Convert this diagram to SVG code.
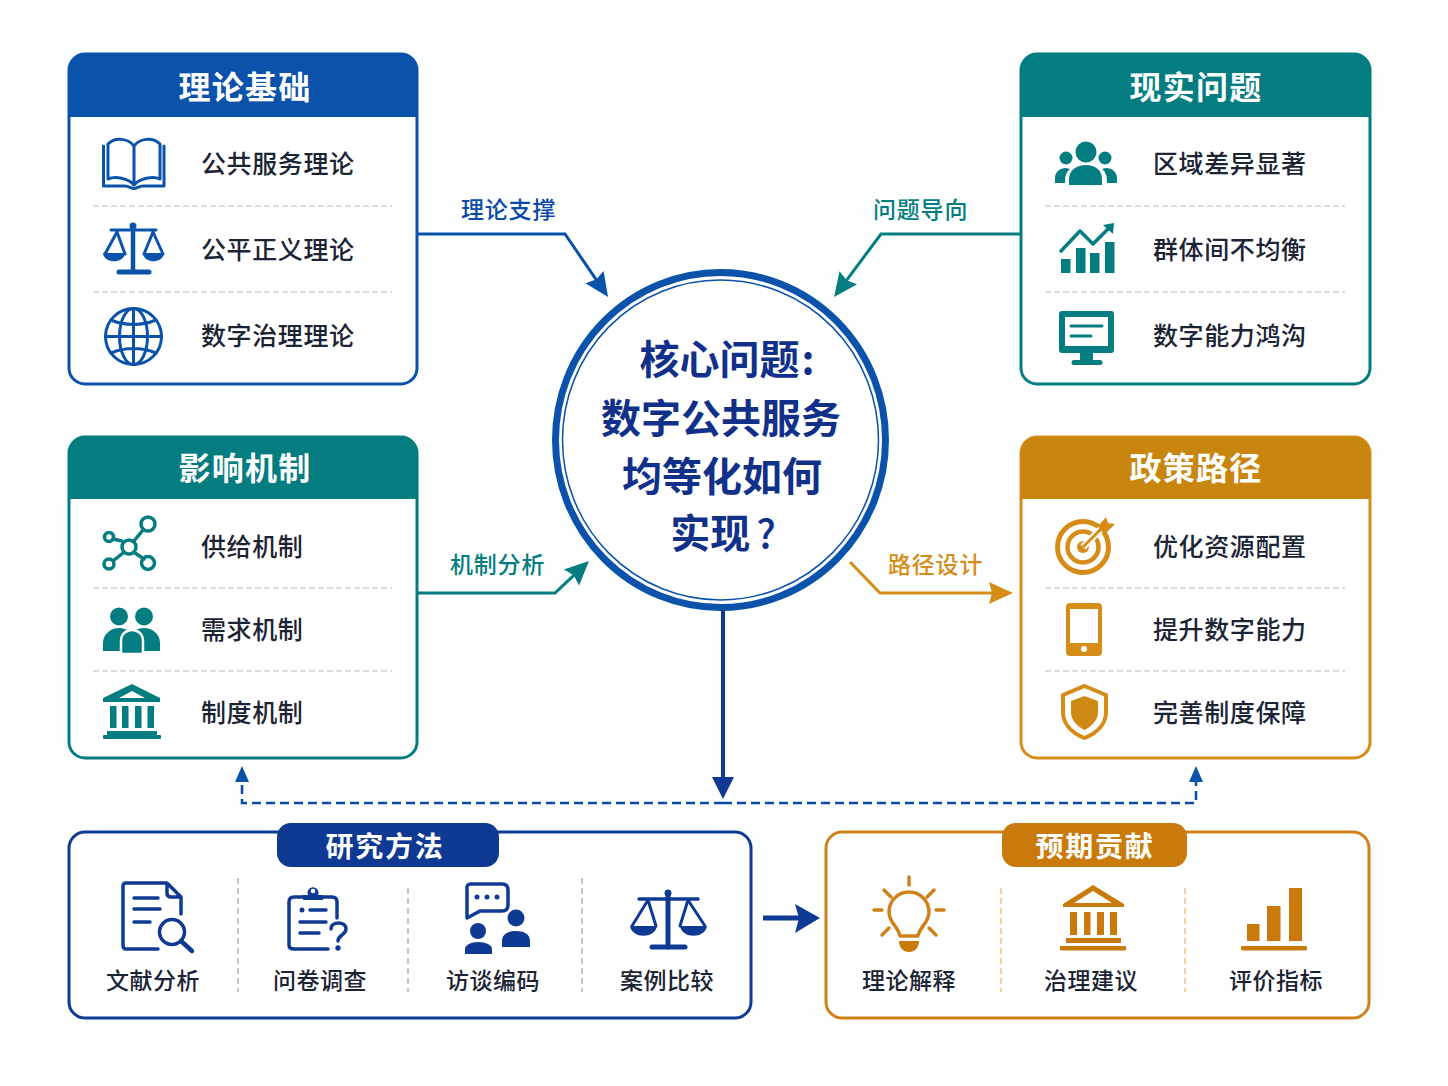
<svg xmlns="http://www.w3.org/2000/svg" width="1448" height="1086" viewBox="0 0 1448 1086">
<style>
text{font-family:"Noto Sans CJK SC","Noto Sans",sans-serif}
.title{font-size:32px;font-weight:700;fill:#fff;text-anchor:middle;letter-spacing:1.2px}
.item{font-size:25px;font-weight:500;fill:#1b2435;letter-spacing:.6px}
.tab{font-size:28px;font-weight:700;fill:#fff;text-anchor:middle;letter-spacing:1.7px}
.cap{font-size:23px;font-weight:500;fill:#1b2435;text-anchor:middle;letter-spacing:.5px}
.lab{font-size:23px;font-weight:500;letter-spacing:.8px}
.core{font-size:40px;font-weight:700;fill:#10308a;text-anchor:middle}
.div{stroke:#cfd2d6;stroke-width:1.6;stroke-dasharray:6 3;fill:none}
.vdiv{stroke:#c3c6ca;stroke-width:2;stroke-dasharray:6 4;fill:none}
.vdivo{stroke:#f6cfa4;stroke-width:2;stroke-dasharray:6 4;fill:none}
.blue{fill:#0b52ab}.teal{fill:#047d80}.gold{fill:#c9860f}.navy{fill:#0e3a94}.orange{fill:#c97a0a}
.sb{stroke:#0b52ab}.st{stroke:#047d80}.sg{stroke:#d68d18}.sn{stroke:#0e3a94}.so{stroke:#d0821a}
.ln{fill:none;stroke-linecap:round;stroke-linejoin:round}
</style>
<defs>
<marker id="ab" markerUnits="userSpaceOnUse" viewBox="0 0 24 24" markerWidth="24" markerHeight="24" refX="6" refY="12" orient="auto"><path d="M0,1 L24,12 L0,23 L3,12z" fill="#0b52ab"/></marker>
<marker id="at" markerUnits="userSpaceOnUse" viewBox="0 0 24 24" markerWidth="24" markerHeight="24" refX="6" refY="12" orient="auto"><path d="M0,1 L24,12 L0,23 L3,12z" fill="#047d80"/></marker>
<marker id="ag" markerUnits="userSpaceOnUse" viewBox="0 0 24 24" markerWidth="24" markerHeight="24" refX="6" refY="12" orient="auto"><path d="M0,1 L24,12 L0,23 L3,12z" fill="#d68d18"/></marker>
<marker id="as" markerUnits="userSpaceOnUse" viewBox="0 0 16 16" markerWidth="16" markerHeight="16" refX="2" refY="8" orient="auto"><path d="M0,1 L16,8 L0,15z" fill="#0b52ab"/></marker>
</defs>
<rect width="1448" height="1086" fill="#fdfefe"/>

<g id="connectors">
<path d="M417,234 H565 L597.9,282.1" fill="none" stroke="#0b52ab" stroke-width="3" marker-end="url(#ab)"/>
<path d="M1021,234 H881 L844.8,282.6" fill="none" stroke="#047d80" stroke-width="3" marker-end="url(#at)"/>
<path d="M417,593 H555 L575.9,573.3" fill="none" stroke="#047d80" stroke-width="3" marker-end="url(#at)"/>
<path d="M850,562 L880,593 H995" fill="none" stroke="#d68d18" stroke-width="3" marker-end="url(#ag)"/>
<path d="M723,803 H242 V780" fill="none" stroke="#0b4aa8" stroke-width="2.500" stroke-dasharray="9 5" marker-end="url(#as)"/>
<path d="M723,803 H1196 V780" fill="none" stroke="#0b4aa8" stroke-width="2.500" stroke-dasharray="9 5" marker-end="url(#as)"/>
<path d="M723,610 V780" fill="none" stroke="#0e3a94" stroke-width="4"/>
<path d="M712,777 H734 L723,799z" fill="#0e3a94"/>
<path d="M763,918 H800" fill="none" stroke="#0e3a94" stroke-width="5"/>
<path d="M795,904 L820,918 L795,933 L799,918z" fill="#0e3a94"/>
<text class="lab" x="461" y="218" fill="#0b4aa8">理论支撑</text>
<text class="lab" x="873" y="218" fill="#047d80">问题导向</text>
<text class="lab" x="450" y="573" fill="#047d80">机制分析</text>
<text class="lab" x="888" y="573" fill="#d68d18">路径设计</text>
</g>

<g id="core">
<ellipse cx="720.500" cy="440" rx="165" ry="167.500" fill="#fff" stroke="#0b52ab" stroke-width="7"/>
<ellipse cx="720.500" cy="440" rx="158" ry="160" fill="none" stroke="#0b52ab" stroke-width="1.500"/>
<text class="core" x="727" y="374">核心问题<tspan dx="2">:</tspan></text>
<text class="core" x="721" y="433">数字公共服务</text>
<text class="core" x="722" y="491">均等化如何</text>
<text class="core" x="723" y="548">实现<tspan dx="6" font-weight="500">?</tspan></text>
</g>

<g id="theory">
<rect x="69" y="54" width="348" height="330" rx="16" fill="#fff" stroke="#0b52ab" stroke-width="3"/>
<path d="M69,117 V70 a16,16 0 0 1 16,-16 H401 a16,16 0 0 1 16,16 V117z" class="blue"/>
<text class="title" x="245" y="99">理论基础</text>
<path class="div" d="M93,206 H392 M93,292 H392"/>
<text class="item" x="201" y="173">公共服务理论</text>
<text class="item" x="201" y="259">公平正义理论</text>
<text class="item" x="201" y="345">数字治理理论</text>
<g class="ln sb" stroke-width="3">
<path d="M108,179 V144 C115,137 128,138 134,146 V185 C128,178 115,176 108,179z M160,179 V144 C153,137 140,138 134,146 V185 C140,178 153,176 160,179z"/>
<path d="M103.500,146 V186 H125 C129,186 131,188.500 134,188.500 C137,188.500 139,186 143,186 H164 V146"/>
</g>
<g class="ln sb" stroke-width="3">
<path d="M111,230 H156 M117,232 L105,254 M117,232 L125,254 M153,232 L144,254 M153,232 L163,254"/>
<path d="M133,226 V272" stroke-width="4.500"/><path d="M119,272 H149" stroke-width="5"/>
</g>
<circle cx="133" cy="226" r="3.500" class="blue"/>
<path d="M103,253 H125 C124,264 104,264 103,253z M143,253 H164 C163,264 144,264 143,253z" class="blue"/>
<g class="ln sb" stroke-width="3">
<circle cx="133.500" cy="336.500" r="28"/><ellipse cx="133.500" cy="336.500" rx="14" ry="28"/>
<path d="M133.500,308.500 V364.500 M105.500,336.500 H161.500 M111,320 C125,326 142,326 156,320 M111,353 C125,347 142,347 156,353"/>
</g>
</g>

<g id="reality">
<rect x="1021" y="54" width="349" height="330" rx="16" fill="#fff" stroke="#047d80" stroke-width="3"/>
<path d="M1021,117 V70 a16,16 0 0 1 16,-16 H1354 a16,16 0 0 1 16,16 V117z" class="teal"/>
<text class="title" x="1196" y="99">现实问题</text>
<path class="div" d="M1045,206 H1345 M1045,292 H1345"/>
<text class="item" x="1153" y="173">区域差异显著</text>
<text class="item" x="1153" y="259">群体间不均衡</text>
<text class="item" x="1153" y="345">数字能力鸿沟</text>
<g class="teal">
<circle cx="1086" cy="152" r="10.500"/><circle cx="1066" cy="158" r="6.500"/><circle cx="1105" cy="158" r="6.500"/>
<path d="M1069,185 V179 C1069,170 1077,165 1086,165 C1095,165 1102,170 1102,179 V185z"/>
<path d="M1055,183 V178 C1055,172 1060,168 1066,168 L1070,169 C1066,172 1065,176 1065,183z M1117,183 V178 C1117,172 1112,168 1106,168 L1102,169 C1106,172 1107,176 1107,183z"/>
<rect x="1061" y="259" width="9.500" height="14"/><rect x="1076" y="248" width="9.500" height="25"/><rect x="1090" y="253" width="9.500" height="20"/><rect x="1105" y="242" width="9.500" height="31"/>
<path d="M1103,225 L1114,223 L1113,234z"/>
<path fill-rule="evenodd" d="M1062,311 H1111 a3,3 0 0 1 3,3 V350 a3,3 0 0 1 -3,3 H1093 V360 H1100 a2.500,2.500 0 0 1 0,5 H1074 a2.500,2.500 0 0 1 0,-5 H1080 V353 H1062 a3,3 0 0 1 -3,-3 V314 a3,3 0 0 1 3,-3z M1065,317 V346 H1108 V317z"/>
</g>
<path class="ln st" stroke-width="3.500" d="M1061,251 L1080,231 L1093,244 L1110,227"/>
<path class="ln st" stroke-width="3" d="M1071,326 H1102 M1071,336 H1091"/>
</g>

<g id="mechanism">
<rect x="69" y="437" width="348" height="321" rx="16" fill="#fff" stroke="#047d80" stroke-width="3"/>
<path d="M69,499 V453 a16,16 0 0 1 16,-16 H401 a16,16 0 0 1 16,16 V499z" class="teal"/>
<text class="title" x="245" y="480">影响机制</text>
<path class="div" d="M93,588 H392 M93,671 H392"/>
<text class="item" x="201" y="556">供给机制</text>
<text class="item" x="201" y="639">需求机制</text>
<text class="item" x="201" y="722">制度机制</text>
<g class="ln st" stroke-width="3.500">
<path d="M134,541 L143,530 M122,541 L113,539 M123,553 L113,561 M135,553 L144,559"/>
<circle cx="129" cy="547" r="7"/><circle cx="148" cy="524" r="7"/><circle cx="109" cy="537" r="4.500"/><circle cx="109" cy="564" r="5"/><circle cx="148" cy="563" r="6.500"/>
</g>
<g class="teal">
<circle cx="119" cy="616.500" r="9"/><circle cx="144" cy="616.500" r="9"/>
<path d="M103,651 V643 C103,634 111,628 119,628 C127,628 135,634 135,643 V651z M160,651 V643 C160,634 152,628 144,628 C136,628 128,634 128,643 V651z"/>
<path d="M121,654 V641 C121,634 126,630 132,630 C138,630 143,634 143,641 V654z" stroke="#fff" stroke-width="2.500"/>
<path fill-rule="evenodd" d="M132,684 L160,698 V702 H103 V698z M132,691 L119,698 H145z"/>
<rect x="110" y="706" width="6.500" height="22"/><rect x="122" y="706" width="6.500" height="22"/><rect x="135" y="706" width="6.500" height="22"/><rect x="147.500" y="706" width="6.500" height="22"/>
<rect x="107" y="731" width="50" height="4"/><rect x="103" y="735" width="58" height="4" rx="1"/>
</g>
</g>

<g id="policy">
<rect x="1021" y="437" width="349" height="321" rx="16" fill="#fff" stroke="#d68d18" stroke-width="3"/>
<path d="M1021,499 V453 a16,16 0 0 1 16,-16 H1354 a16,16 0 0 1 16,16 V499z" class="gold"/>
<text class="title" x="1196" y="480">政策路径</text>
<path class="div" d="M1045,588 H1345 M1045,671 H1345"/>
<text class="item" x="1153" y="556">优化资源配置</text>
<text class="item" x="1153" y="639">提升数字能力</text>
<text class="item" x="1153" y="722">完善制度保障</text>
<circle cx="1083" cy="547" r="25.500" fill="none" stroke="#d68d18" stroke-width="5"/>
<circle cx="1083" cy="547" r="15.500" fill="none" stroke="#d68d18" stroke-width="4.500"/>
<circle cx="1083" cy="547" r="6" fill="#d68d18"/>
<path d="M1083,547 L1103,527" stroke="#fff" stroke-width="7" fill="none"/>
<path d="M1083,547 L1103,527" stroke="#d68d18" stroke-width="3" fill="none"/>
<path d="M1098,526 L1106,517 L1108,523 L1115,524 L1106,533 L1100,531z" fill="#d68d18"/>
<path fill="#d68d18" fill-rule="evenodd" d="M1070,603 H1098 a4,4 0 0 1 4,4 V652 a4,4 0 0 1 -4,4 H1070 a4,4 0 0 1 -4,-4 V607 a4,4 0 0 1 4,-4z M1070,609 V643 H1098 V609z"/>
<circle cx="1084" cy="649" r="3" fill="#fff"/>
<path d="M1084.500,686 L1106,695 V712 C1106,724 1097,733 1084.500,738 C1072,733 1063,724 1063,712 V695z" fill="none" stroke="#d68d18" stroke-width="4"/>
<path d="M1084.500,696 L1098,701 V712 C1098,720 1092,726 1084.500,730 C1077,726 1071,720 1071,712 V701z" fill="#cf8a14"/>
</g>

<g id="methods">
<rect x="69" y="832" width="682" height="186" rx="16" fill="#fff" stroke="#0e3a94" stroke-width="3"/>
<rect x="277" y="823" width="222" height="44" rx="14" class="navy"/>
<text class="tab" x="385" y="857">研究方法</text>
<path class="vdiv" d="M238,878 V992 M408,888 V992 M582,878 V992"/>
<text class="cap" x="153" y="989">文献分析</text>
<text class="cap" x="320" y="989">问卷调查</text>
<text class="cap" x="493" y="989">访谈编码</text>
<text class="cap" x="667" y="989">案例比较</text>
<g class="ln sn" stroke-width="3.500">
<path d="M158,949 H126 Q123,949 123,945 V886 Q123,883 126,883 H167 L181,897 V914 M167,883 V893 Q167,897 171,897 H181"/>
<path d="M134,898 H158 M134,909 H160 M134,922 H150"/>
<circle cx="172" cy="932" r="12.500"/><path d="M181,941 L192,951" stroke-width="4.500"/>
</g>
<g class="ln sn" stroke-width="3.500">
<path d="M303,897 H294 Q289,897 289,902 V945 Q289,949 294,949 H328 M323,897 H332 Q337,897 337,902 V918"/>
<path d="M310,910 H326 M300,922 H326 M300,933 H319"/>
<path d="M331,929 C331,921 346,921 346,929 C346,935 338,935 338,941"/>
</g>
<circle cx="302" cy="910" r="2.500" class="navy"/>
<circle cx="338" cy="948" r="2.700" class="navy"/>
<path d="M303,900 V895 H308 A5.500,5.500 0 1 1 318,895 H323 V900z" class="navy"/>
<circle cx="313" cy="891" r="2.300" fill="#fff"/>
<path class="ln sn" stroke-width="3.500" d="M471,884 H502 Q508,884 508,890 V905 Q508,911 502,911 H480 L467,918 V890 Q466,884 471,884z" fill="#fff"/>
<g class="navy">
<circle cx="477" cy="897" r="2.500"/><circle cx="487" cy="897" r="2.500"/><circle cx="497" cy="897" r="2.500"/>
<circle cx="516" cy="918" r="8.500"/><circle cx="478" cy="931" r="8"/>
<path d="M502,947 V941 C502,934 508,931 516,931 C524,931 530,934 530,941 V947z"/>
<path d="M465,954 V949 C465,945 471,942 478,942 C486,942 492,945 492,949 V954z"/>
</g>
<g class="ln sn" stroke-width="3">
<path d="M648,900 L632,926 M648,900 L656,926 M688,900 L680,926 M688,900 L705,926"/>
<path d="M639,899 H698" stroke-width="3.500"/>
<path d="M668,893 V947" stroke-width="5"/><path d="M652,947 H685" stroke-width="5"/>
</g>
<circle cx="668" cy="893" r="3.500" class="navy"/>
<path d="M630,926 H657 C655,939 632,939 630,926z M680,926 H707 C705,939 682,939 680,926z" class="navy"/>
</g>

<g id="contribution">
<rect x="826" y="832" width="543" height="186" rx="16" fill="#fff" stroke="#d0821a" stroke-width="3"/>
<rect x="1002" y="823" width="185" height="44" rx="14" class="orange"/>
<text class="tab" x="1095" y="857">预期贡献</text>
<path class="vdivo" d="M1001,888 V992 M1185,888 V992"/>
<text class="cap" x="909" y="989">理论解释</text>
<text class="cap" x="1091" y="989">治理建议</text>
<text class="cap" x="1276" y="989">评价指标</text>
<g class="ln so" stroke-width="3.500">
<path d="M900,936 C898,926 889,923 889,912 C889,901 898,892 909,892 C920,892 929,901 929,912 C929,923 920,926 918,936z"/>
<path d="M909,877 V885 M884,890 L891,897 M934,890 L927,897 M874,910 H882 M936,910 H944 M882,935 L889,928 M936,935 L929,928"/>
</g>
<path d="M899,941 H919 C919,946 916,952 909,952 C902,952 899,946 899,941z" class="orange"/>
<g class="orange">
<path fill-rule="evenodd" d="M1093,885 L1124,904 V907 H1063 V904z M1093,891 L1074,903 H1112z"/>
<rect x="1070" y="912" width="7" height="23"/><rect x="1084" y="912" width="6.500" height="23"/><rect x="1097" y="912" width="7" height="23"/><rect x="1110" y="912" width="7" height="23"/>
<rect x="1066" y="938" width="55" height="5"/><rect x="1060" y="946" width="66" height="4.500" rx="1"/>
<rect x="1247" y="924" width="12.500" height="17"/><rect x="1267" y="906" width="13.500" height="35"/><rect x="1289" y="888" width="13" height="53"/>
<rect x="1241" y="946" width="66" height="4.500" rx="1.500"/>
</g>
</g>
</svg>
